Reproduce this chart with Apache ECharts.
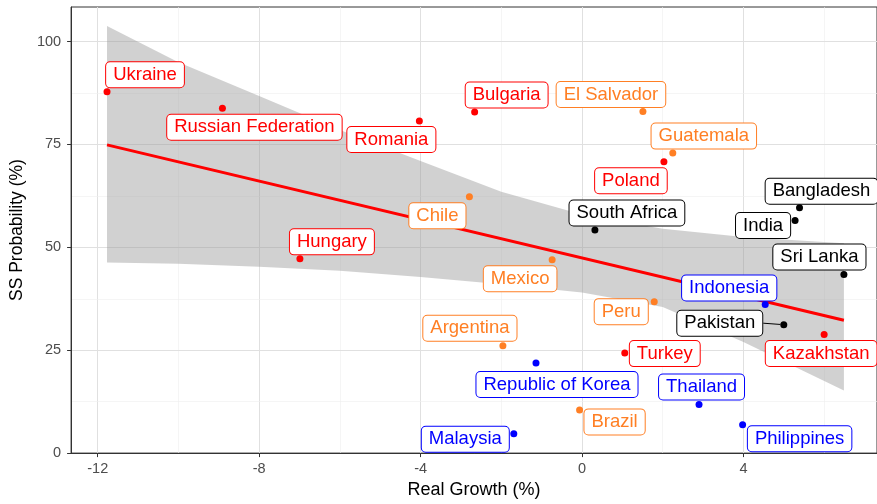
<!DOCTYPE html>
<html>
<head>
<meta charset="utf-8">
<script src="https://cdn.jsdelivr.net/npm/echarts@6/dist/echarts.min.js"></script>
<style>
  html, body { margin: 0; padding: 0; background: #fff; }
  #chart { width: 877px; height: 504px; }
</style>
</head>
<body>
<div id="chart"></div>
<script>
// data
const countries = ['Ukraine', 'Russian Federation', 'Romania', 'Bulgaria', 'El Salvador',
  'Guatemala', 'Poland', 'Chile', 'South Africa', 'Hungary', 'Mexico', 'Bangladesh', 'India',
  'Sri Lanka', 'Indonesia', 'Pakistan', 'Kazakhstan', 'Peru', 'Turkey', 'Argentina',
  'Republic of Korea', 'Brazil', 'Thailand', 'Malaysia', 'Philippines']
const growth = [-11.77, -8.91, -4.03, -2.66, 1.51, 2.25, 2.03, -2.79, 0.32, -6.99, -0.74, 5.39,
  5.28, 6.49, 4.54, 5.00, 6.00, 1.79, 1.06, -1.96, -1.14, -0.06, 2.90, -1.69, 3.98]
const probability = [87.8, 83.8, 80.7, 82.9, 83.0, 72.9, 70.8, 62.3, 54.2, 47.2, 47.0, 59.6,
  56.5, 43.4, 36.1, 31.2, 28.8, 36.8, 24.3, 26.1, 21.9, 10.5, 11.8, 4.7, 6.9]
const group = ['A', 'A', 'A', 'A', 'B', 'B', 'A', 'B', 'C', 'A', 'B', 'C', 'C', 'C', 'D', 'C',
  'A', 'B', 'A', 'B', 'D', 'B', 'D', 'D', 'D']

// fitted line and its confidence band
const fitX = [-11.77, 6.49]
const fitY = [74.9, 32.3]
const bandX = [-11.77, -10, -8, -6, -4, -2, 0, 2, 4, 6.49]
const bandUpper = [103.8, 95.0, 86.8, 78.5, 71.0, 63.5, 58.0, 54.5, 52.5, 51.0]
const bandLower = [46.3, 46.0, 45.3, 44.3, 42.8, 41.0, 39.0, 35.5, 27.0, 15.2]

// axes
const xTicks = [-12, -8, -4, 0, 4]
const xMinor = [-10, -6, -2, 2, 6]
const yTicks = [0, 25, 50, 75, 100]
const yMinor = [12.5, 37.5, 62.5, 87.5]

// layout: label box centre relative to its point (px), like ggrepel put them
const labelOffsets = [[38, -17], [32, 19], [-28, 18.5], [32, -17], [-32, -17],
  [31, -17], [-33, 19], [-32, 19], [32, -17], [32, -17], [-32, 19], [22, -16.5],
  [-32, 5], [-24.5, -17.5], [-36, -16.5], [-64, -1.5], [-3, 19], [-33, 10], [40, 0.5],
  [-33, -17.5], [21, 21.5], [35, 12], [2.5, -17.5], [-48.5, 5.5], [57, 14]]

const colors = { A: '#ff0000', B: '#ff7f24', C: '#000000', D: '#0000ff' }
const font = '"Liberation Sans", Arial, Helvetica, sans-serif'

const chart = echarts.init(document.getElementById('chart'))

const points = countries.map((name, i) => {
  const c = colors[group[i]]
  const item = {
    name: name,
    value: [growth[i], probability[i]],
    itemStyle: { color: c, opacity: 1 },
    label: { color: c, borderColor: c }
  }
  if (name === 'Pakistan') {
    item.labelLine = { show: true, lineStyle: { color: '#000', width: 1, opacity: 1 } }
  }
  return item
})

const major = { color: '#e0e0e0', width: 1, type: 'solid' }
const minor = { color: '#eeeeee', width: 0.6, type: 'solid' }
const gridLines = []
xTicks.forEach(v => gridLines.push({ xAxis: v, lineStyle: major }))
xMinor.forEach(v => gridLines.push({ xAxis: v, lineStyle: minor }))
yTicks.forEach(v => gridLines.push({ yAxis: v, lineStyle: major }))
yMinor.forEach(v => gridLines.push({ yAxis: v, lineStyle: minor }))

chart.setOption({
  animation: false,
  textStyle: { fontFamily: font },
  grid: {
    left: 71, right: -1, top: 7, bottom: 50,
    show: true, borderColor: '#333', borderWidth: 1
  },
  xAxis: {
    type: 'value',
    min: -12.66,
    max: 7.31,
    name: 'Real Growth (%)',
    nameLocation: 'middle',
    nameGap: 27,
    nameTextStyle: { color: '#000', fontSize: 18, fontFamily: font },
    axisLine: { show: true, onZero: false, lineStyle: { color: '#333', width: 1 } },
    axisTick: { show: true, customValues: xTicks, length: 4, lineStyle: { color: '#333' } },
    axisLabel: { customValues: xTicks, color: '#4d4d4d', fontSize: 14.5, margin: 8, fontFamily: font },
    splitLine: { show: false }
  },
  yAxis: {
    type: 'value',
    min: 0,
    max: 108.4,
    name: 'SS Probability (%)',
    nameLocation: 'middle',
    nameGap: 38,
    nameTextStyle: { color: '#000', fontSize: 17.5, fontFamily: font },
    axisLine: { show: true, onZero: false, lineStyle: { color: '#333', width: 1 } },
    axisTick: { show: true, customValues: yTicks, length: 4, lineStyle: { color: '#333' } },
    axisLabel: { customValues: yTicks, color: '#4d4d4d', fontSize: 14.5, margin: 10, fontFamily: font },
    splitLine: { show: false }
  },
  series: [
    {
      // grid lines, kept under the band
      type: 'line',
      data: [],
      silent: true,
      markLine: {
        silent: true,
        z: 0,
        symbol: 'none',
        label: { show: false },
        emphasis: { disabled: true },
        data: gridLines
      }
    },
    {
      type: 'custom',
      z: 1,
      silent: true,
      data: bandX.map((x, i) => [x, bandLower[i], bandUpper[i]]),
      encode: { x: 0, y: [1, 2] },
      renderItem: (params, api) => {
        if (params.dataIndex !== 0) return
        const pts = []
        for (let i = 0; i < bandX.length; i++) pts.push(api.coord([bandX[i], bandUpper[i]]))
        for (let i = bandX.length - 1; i >= 0; i--) pts.push(api.coord([bandX[i], bandLower[i]]))
        return {
          type: 'polygon',
          shape: { points: pts },
          style: { fill: 'rgba(153,153,153,0.45)' }
        }
      }
    },
    {
      type: 'line',
      z: 2,
      silent: true,
      data: fitX.map((x, i) => [x, fitY[i]]),
      symbol: 'none',
      lineStyle: { color: '#ff0000', width: 3 }
    },
    {
      type: 'scatter',
      z: 3,
      symbolSize: 7,
      data: points,
      label: {
        show: true,
        position: 'inside',
        formatter: '{b}',
        fontSize: 18.5,
        lineHeight: 19,
        fontFamily: font,
        backgroundColor: '#fff',
        borderWidth: 1,
        borderRadius: 4,
        padding: [3, 7, 3, 7]
      },
      labelLine: { show: false },
      labelLayout: params => ({
        dx: labelOffsets[params.dataIndex][0],
        dy: labelOffsets[params.dataIndex][1]
      })
    }
  ]
})
</script>
</body>
</html>
